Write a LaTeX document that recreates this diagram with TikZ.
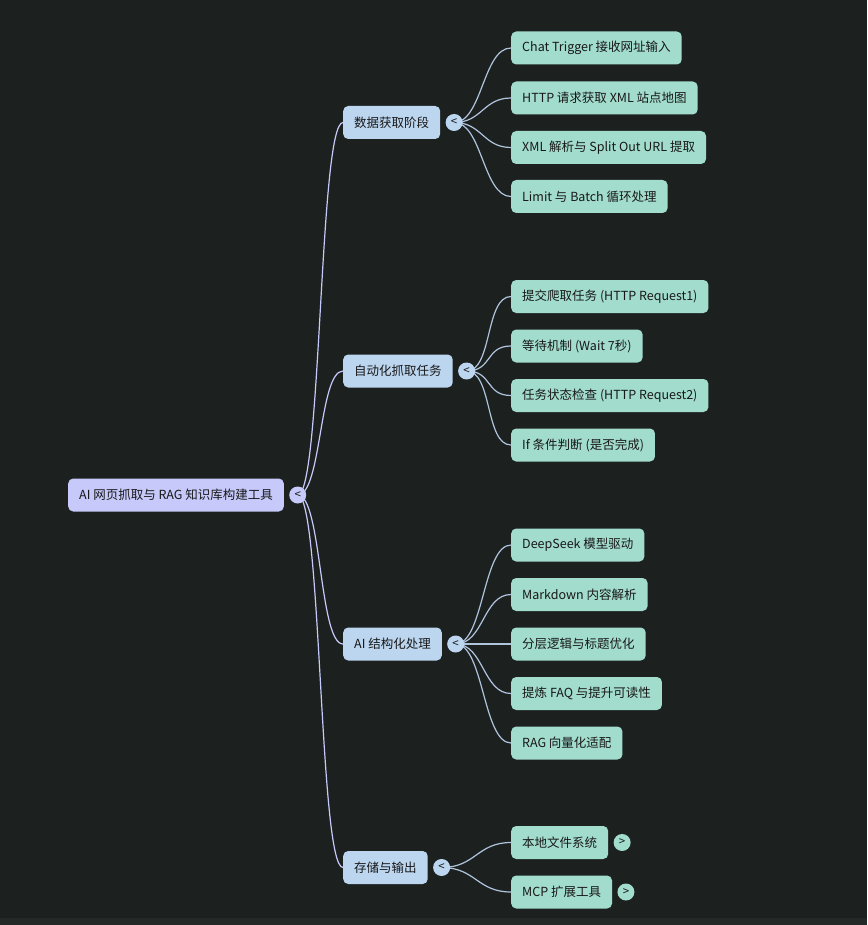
\documentclass[tikz,border=0pt]{standalone}
\usepackage{fontspec}
\setmainfont{Noto Sans CJK SC}
\usetikzlibrary{positioning}
\definecolor{bgdark}{RGB}{28,33,32}
\definecolor{bgstrip}{RGB}{36,41,40}
\definecolor{rootfill}{RGB}{198,201,250}
\definecolor{midfill}{RGB}{188,214,240}
\definecolor{leaffill}{RGB}{162,220,205}
\definecolor{inktext}{RGB}{24,24,24}
\definecolor{midedge}{RGB}{176,196,222}
\begin{document}
\begin{tikzpicture}[
	x=1pt, y=-1pt,
	box/.style={rounded corners=5pt, minimum height=33pt, inner xsep=11pt,
		anchor=west, text=inktext, font=\fontsize{12.5}{15}\selectfont},
	root/.style={box, fill=rootfill},
	mid/.style={box, fill=midfill},
	leaf/.style={box, fill=leaffill},
	knob/.style={circle, inner sep=0pt, minimum size=17pt, text=inktext,
		font=\fontsize{11.5}{11.5}\selectfont, right=5pt of #1},
	rootedge/.style={draw=rootfill, line width=1.2pt},
	midedge/.style={draw=midedge, line width=1.2pt}
]
\useasboundingbox (0,0) rectangle (867,925);
\fill[bgdark] (0,0) rectangle (867,925);
\fill[bgstrip] (0,918) rectangle (867,925);

% Root
\node[root] (r) at (68,495) {AI 网页抓取与 RAG 知识库构建工具};

% Stages
\node[mid] (s1) at (343,122.5) {数据获取阶段};
\node[mid] (s2) at (343,371) {自动化抓取任务};
\node[mid] (s3) at (343,644) {AI 结构化处理};
\node[mid] (s4) at (343,867.5) {存储与输出};

% Stage 1 leaves
\node[leaf] (l11) at (511,48) {Chat Trigger 接收网址输入};
\node[leaf] (l12) at (511,98) {HTTP 请求获取 XML 站点地图};
\node[leaf] (l13) at (511,147.5) {XML 解析与 Split Out URL 提取};
\node[leaf] (l14) at (511,196.5) {Limit 与 Batch 循环处理};

% Stage 2 leaves
\node[leaf] (l21) at (511,296.5) {提交爬取任务 (HTTP Request1)};
\node[leaf] (l22) at (511,346) {等待机制 (Wait 7秒)};
\node[leaf] (l23) at (511,395.5) {任务状态检查 (HTTP Request2)};
\node[leaf] (l24) at (511,445) {If 条件判断 (是否完成)};

% Stage 3 leaves
\node[leaf] (l31) at (511,545) {DeepSeek 模型驱动};
\node[leaf] (l32) at (511,594.5) {Markdown 内容解析};
\node[leaf] (l33) at (511,644) {分层逻辑与标题优化};
\node[leaf] (l34) at (511,693.5) {提炼 FAQ 与提升可读性};
\node[leaf] (l35) at (511,743) {RAG 向量化适配};

% Stage 4 leaves
\node[leaf] (l41) at (511,842.5) {本地文件系统};
\node[leaf] (l42) at (511,892) {MCP 扩展工具};

% Collapse knobs (position only, drawn later on top)
\path node[knob=r] (kr) {} node[knob=s1] (k1) {} node[knob=s2] (k2) {}
	node[knob=s3] (k3) {} node[knob=s4] (k4) {};

% Root edges
\foreach \s in {s1,s2,s3,s4}
	\draw[rootedge] (kr.center) .. controls +(24,0) and +(-24,0) .. (\s.west);

% Stage edges
\foreach \l in {l11,l12,l13,l14}
	\draw[midedge] (k1.center) .. controls +(28,0) and +(-28,0) .. (\l.west);
\foreach \l in {l21,l22,l23,l24}
	\draw[midedge] (k2.center) .. controls +(26,0) and +(-26,0) .. (\l.west);
\foreach \l in {l31,l32,l33,l34,l35}
	\draw[midedge] (k3.center) .. controls +(28,0) and +(-28,0) .. (\l.west);
\foreach \l in {l41,l42}
	\draw[midedge] (k4.center) .. controls +(34,0) and +(-34,0) .. (\l.west);

% Knobs
\node[knob=r, fill=rootfill] {<};
\node[knob=s1, fill=midfill] {<};
\node[knob=s2, fill=midfill] {<};
\node[knob=s3, fill=midfill] {<};
\node[knob=s4, fill=midfill] {<};
\node[knob=l41, fill=leaffill] {>};
\node[knob=l42, fill=leaffill] {>};
\end{tikzpicture}
\end{document}
